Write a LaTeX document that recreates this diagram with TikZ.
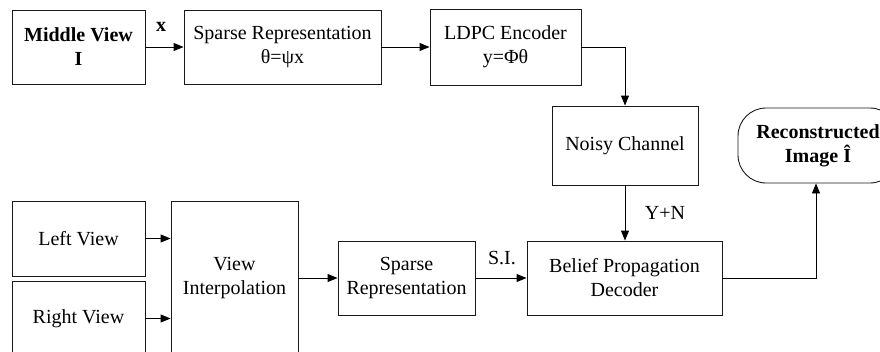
\documentclass[tikz,border=0pt]{standalone}
\usepackage{fontspec}
\setmainfont{Liberation Serif}
\usetikzlibrary{arrows.meta}

\definecolor{boxline}{rgb}{0.1,0.1,0.1}
\tikzset{
  blockbox/.style={draw=boxline, line width=0.9pt, rectangle, align=center,
    inner sep=0pt, font=\fontsize{20}{24}\selectfont},
  flowline/.style={line width=0.9pt, -{Triangle[length=10pt,width=8pt]}},
  flowlabel/.style={font=\fontsize{20}{24}\selectfont, inner sep=0pt}
}

\begin{document}
\begin{tikzpicture}[x=1pt, y=-1pt]
        \useasboundingbox (0,0) rectangle (880,351);
        \clip (0,0) rectangle (880,351);

        % top row
        \node[blockbox, minimum width=133pt, minimum height=74pt] (mid) at (78.5,47) {\textbf{Middle View}\\\textbf{I}};
        \node[blockbox, minimum width=197pt, minimum height=74pt] (sparsetop) at (282.5,47) {Sparse Representation\\θ=ψx};
        \node[blockbox, minimum width=151pt, minimum height=76pt] (ldpc) at (505.5,47) {LDPC Encoder\\y=Φθ};
        \node[blockbox, minimum width=146pt, minimum height=79pt] (noisy) at (625,145.5) {Noisy Channel};
        \node[blockbox, minimum width=160pt, minimum height=75pt, rounded corners=28pt] (recon) at (818,145.5) {\textbf{Reconstructed}\\\textbf{Image Î}};

        % bottom row
        \node[blockbox, minimum width=133pt, minimum height=75pt] (leftview) at (78.5,238.5) {Left View};
        \node[blockbox, minimum width=133pt, minimum height=75pt] (rightview) at (78.5,318.5) {Right View};
        \node[blockbox, minimum width=127pt, minimum height=154pt] (interp) at (234.5,278) {View\\Interpolation};
        \node[blockbox, minimum width=137pt, minimum height=74pt] (sparsebot) at (406.5,278) {Sparse\\Representation};
        \node[blockbox, minimum width=195pt, minimum height=74pt] (decoder) at (624.5,278) {Belief Propagation\\Decoder};

        % connectors
        \draw[flowline] (mid.east) -- (sparsetop.west);
        \node[flowlabel] (xlabel) at (161,27) {\textbf{x}};
        \draw[flowline] (sparsetop.east) -- (ldpc.west);
        \draw[flowline] (ldpc.east) -| (noisy.north);
        \draw[flowline] (noisy.south) -- (noisy.south |- decoder.north);
        \node[flowlabel] (ynlabel) at (665,213) {Y+N};
        \draw[flowline] (leftview.east) -- (interp.west |- leftview.east);
        \draw[flowline] (rightview.east) -- (interp.west |- rightview.east);
        \draw[flowline] (interp.east) -- (sparsebot.west);
        \draw[flowline] (sparsebot.east) -- (decoder.west);
        \node[flowlabel] (silabel) at (502,258) {S.I.};
        \draw[flowline] (decoder.east) -| ([xshift=-2pt]recon.south);
    \end{tikzpicture}
\end{document}
